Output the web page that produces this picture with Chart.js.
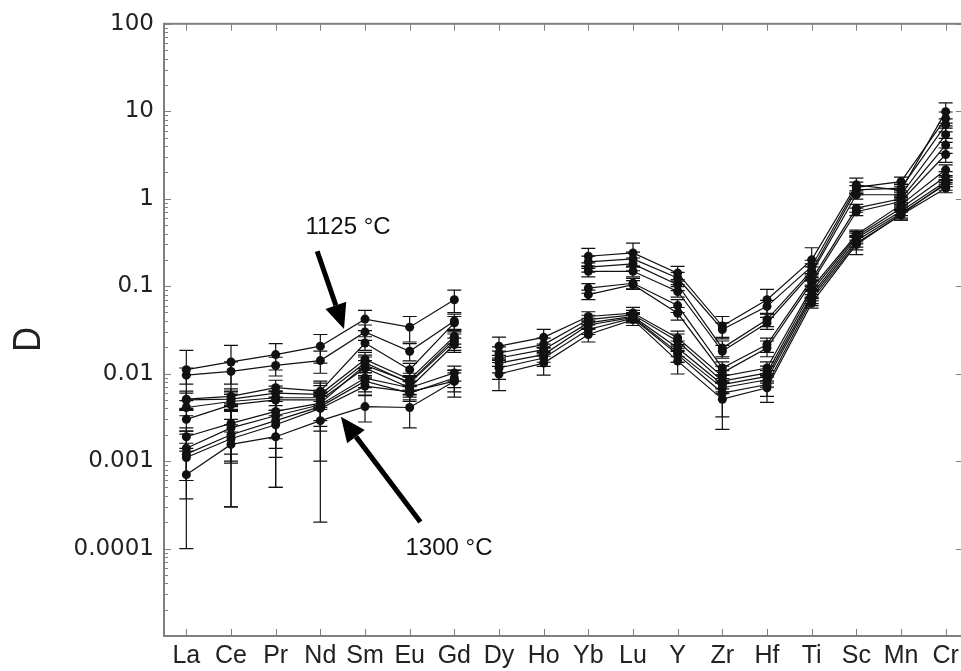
<!DOCTYPE html>
<html>
<head>
<meta charset="utf-8">
<script src="https://cdn.jsdelivr.net/npm/chart.js@4.4.0/dist/chart.umd.min.js"></script>
<style>
  html, body { margin: 0; padding: 0; background: #fff; overflow: hidden; }
  #wrap { width: 961px; height: 671px; overflow: hidden; }
</style>
</head>
<body>
<div id="wrap"><canvas id="chart" width="980" height="671"></canvas></div>
<script>
const categories = ["La", "Ce", "Pr", "Nd", "Sm", "Eu", "Gd", "Dy", "Ho", "Yb", "Lu", "Y", "Zr", "Hf", "Ti", "Sc", "Mn", "Cr"];
const yTickValues = [1e-5, 1e-4, 1e-3, 0.01, 0.1, 1, 10, 100];
const yTickLabels = ["", "0.0001", "0.001", "0.01", "0.1", "1", "10", "100"];

// partition coefficients, one array per run (top = 1125 °C ... bottom = 1300 °C)
const s1 = [0.0111, 0.0136, 0.0165, 0.0206, 0.042, 0.034, 0.070, null, null, 0.22, 0.24, 0.141, 0.035, 0.070, 0.20, 1.44, 1.25, 9.9];
const s2 = [0.0096, 0.0106, 0.0124, 0.0141, 0.030, 0.018, 0.040, null, null, 0.19, 0.205, 0.124, 0.032, 0.0588, 0.168, 1.35, 1.57, 8.3];
const s3 = [0.0051, 0.0055, 0.0069, 0.0063, 0.0224, 0.0111, 0.038, null, null, 0.165, 0.18, 0.104, 0.0196, 0.0415, 0.15, 1.26, 1.32, 7.0];
const s4 = [0.0050, 0.0051, 0.0060, 0.0058, 0.0145, 0.0086, 0.0267, null, null, 0.148, 0.148, 0.087, 0.018, 0.038, 0.141, 1.11, 1.11, 5.4];
const s5 = [0.0041, 0.0048, 0.0053, 0.0053, 0.0133, 0.0078, 0.0234, null, null, 0.095, 0.108, 0.060, 0.0116, 0.0215, 0.119, 0.78, 1.0, 4.1];
const s6 = [0.0030, 0.0044, 0.0050, 0.0050, 0.0116, 0.0069, 0.0215, null, null, 0.08, 0.104, 0.049, 0.0102, 0.0196, 0.11, 0.71, 0.93, 3.2];
const s7 = [0.0019, 0.0027, 0.0037, 0.0046, 0.0125, 0.0080, 0.025, 0.0206, 0.026, 0.045, 0.0493, 0.0256, 0.0093, 0.0116, 0.095, 0.387, 0.85, 2.14];
const s8 = [0.0014, 0.0024, 0.0033, 0.0044, 0.0089, 0.0069, 0.0102, 0.0172, 0.0215, 0.0415, 0.047, 0.0234, 0.0082, 0.0102, 0.088, 0.37, 0.78, 1.79];
const s9 = [0.0012, 0.0020, 0.0029, 0.0042, 0.0082, 0.0060, 0.0089, 0.0151, 0.0188, 0.038, 0.045, 0.0196, 0.0075, 0.0093, 0.080, 0.354, 0.72, 1.57];
const s10 = [0.0011, 0.0018, 0.0026, 0.0040, 0.0072, 0.0062, 0.0082, 0.0132, 0.0165, 0.036, 0.044, 0.0175, 0.0069, 0.0085, 0.075, 0.33, 0.68, 1.45];
const s11 = [0.0007, 0.00155, 0.0019, 0.0029, 0.0042, 0.0041, 0.0082, 0.0116, 0.0151, 0.032, 0.043, 0.0165, 0.0060, 0.0075, 0.070, 0.31, 0.65, 1.32];
const s12 = [null, null, null, null, null, null, null, 0.0099, 0.0132, 0.028, 0.0415, 0.0139, 0.0051, 0.0069, 0.064, 0.30, 0.66, 1.5];

// +/- errors (same units as D)
const e1 = [0.0073, 0.0074, 0.0055, 0.0074, 0.011, 0.011, 0.020, null, null, 0.05, 0.07, 0.027, 0.010, 0.022, 0.075, 0.28, 0.20, 2.6];
const e2 = [0.0020, 0.0030, 0.0030, 0.0040, 0.006, 0.004, 0.008, null, null, 0.03, 0.04, 0.020, 0.006, 0.010, 0.030, 0.20, 0.20, 1.5];
const e3 = [0.0012, 0.0012, 0.0015, 0.0015, 0.004, 0.002, 0.007, null, null, 0.02, 0.03, 0.015, 0.004, 0.007, 0.03, 0.15, 0.15, 1.2];
const e4 = [0.0010, 0.0012, 0.0012, 0.0015, 0.003, 0.0015, 0.005, null, null, 0.02, 0.02, 0.012, 0.003, 0.006, 0.025, 0.12, 0.12, 1.0];
const e5 = [0.0008, 0.0010, 0.0010, 0.0012, 0.003, 0.0015, 0.005, null, null, 0.012, 0.015, 0.010, 0.002, 0.004, 0.02, 0.08, 0.10, 0.8];
const e6 = [0.0008, 0.0014, 0.0012, 0.0011, 0.0025, 0.0012, 0.004, null, null, 0.01, 0.012, 0.008, 0.002, 0.004, 0.02, 0.07, 0.10, 0.6];
const e7 = [0.0005, 0.0015, 0.0026, 0.0036, 0.003, 0.0015, 0.005, 0.0055, 0.006, 0.006, 0.008, 0.005, 0.0015, 0.002, 0.02, 0.05, 0.10, 0.3];
const e8 = [0.0008, 0.0021, 0.0015, 0.0015, 0.002, 0.0015, 0.002, 0.003, 0.004, 0.005, 0.006, 0.005, 0.0015, 0.002, 0.015, 0.05, 0.08, 0.25];
const e9 = [0.00083, 0.0017, 0.0024, 0.002, 0.002, 0.0012, 0.002, 0.003, 0.003, 0.005, 0.005, 0.004, 0.0013, 0.0015, 0.012, 0.05, 0.08, 0.2];
const e10 = [0.0005, 0.0008, 0.0012, 0.0015, 0.0015, 0.0012, 0.002, 0.003, 0.003, 0.004, 0.005, 0.004, 0.001, 0.0015, 0.012, 0.05, 0.08, 0.2];
const e11 = [0.0006, 0.0006, 0.0014, 0.0027, 0.0014, 0.0017, 0.0028, 0.003, 0.003, 0.004, 0.005, 0.003, 0.0028, 0.002, 0.01, 0.05, 0.08, 0.15];
const e12 = [null, null, null, null, null, null, null, 0.0035, 0.0036, 0.005, 0.006, 0.004, 0.0028, 0.0022, 0.008, 0.07, 0.09, 0.12];

const seriesList = [s1, s2, s3, s4, s5, s6, s7, s8, s9, s10, s11, s12];
const errList = [e1, e2, e3, e4, e5, e6, e7, e8, e9, e10, e11, e12];

const GAP_AFTER = categories.indexOf("Gd"); // no line between Gd and Dy
const INK = "#111";
const FRAME = "#808080";

const datasets = seriesList.map((vals, i) => ({
  label: "run " + (i + 1),
  data: vals,
  errors: errList[i],
  borderColor: INK,
  borderWidth: 1.2,
  backgroundColor: INK,
  pointBackgroundColor: INK,
  pointBorderColor: INK,
  pointRadius: 4.5,
  pointBorderWidth: 0,
  tension: 0,
  spanGaps: false,
  segment: {
    borderColor: (ctx) => (ctx.p0DataIndex === GAP_AFTER ? "rgba(0,0,0,0)" : undefined),
  },
}));

function drawArrow(ctx, x0, y0, x1, y1) {
  const ang = Math.atan2(y1 - y0, x1 - x0);
  const headLen = 25;
  const headHalf = 11;
  const bx = x1 - headLen * Math.cos(ang);
  const by = y1 - headLen * Math.sin(ang);
  ctx.beginPath();
  ctx.moveTo(x0, y0);
  ctx.lineTo(bx, by);
  ctx.lineWidth = 5;
  ctx.strokeStyle = "#000";
  ctx.stroke();
  ctx.beginPath();
  ctx.moveTo(x1, y1);
  ctx.lineTo(bx + headHalf * Math.sin(ang), by - headHalf * Math.cos(ang));
  ctx.lineTo(bx - headHalf * Math.sin(ang), by + headHalf * Math.cos(ang));
  ctx.closePath();
  ctx.fillStyle = "#000";
  ctx.fill();
}

const errorBars = {
  id: "errorBars",
  beforeDatasetsDraw(chart) {
    const { ctx, scales: { x, y } } = chart;
    ctx.save();
    ctx.strokeStyle = INK;
    ctx.lineWidth = 1.2;
    chart.data.datasets.forEach((ds) => {
      ds.data.forEach((v, i) => {
        const e = ds.errors[i];
        if (v == null || e == null) return;
        const px = x.getPixelForValue(i);
        const lo = y.getPixelForValue(Math.max(v - e, 1e-5));
        const hi = y.getPixelForValue(v + e);
        ctx.beginPath();
        ctx.moveTo(px, lo); ctx.lineTo(px, hi);
        ctx.moveTo(px - 7, lo); ctx.lineTo(px + 7, lo);
        ctx.moveTo(px - 7, hi); ctx.lineTo(px + 7, hi);
        ctx.stroke();
      });
    });
    ctx.restore();
  },
};

const frameAndNotes = {
  id: "frameAndNotes",
  afterDraw(chart) {
    const { ctx, chartArea: a, scales: { x, y } } = chart;
    ctx.save();
    // frame
    ctx.strokeStyle = FRAME;
    ctx.lineWidth = 2;
    ctx.strokeRect(a.left, a.top, a.right - a.left, a.bottom - a.top);
    ctx.lineWidth = 1;
    ctx.beginPath();
    // left (major + minor) and right (major) ticks, pointing inward
    for (let p = -5; p <= 2; p++) {
      const yy = Math.round(y.getPixelForValue(Math.pow(10, p))) + 0.5;
      ctx.moveTo(a.left, yy); ctx.lineTo(a.left + 7, yy);
      ctx.moveTo(a.right, yy); ctx.lineTo(a.right - 12, yy);
      if (p < 2) {
        for (let k = 2; k <= 9; k++) {
          const ym = Math.round(y.getPixelForValue(k * Math.pow(10, p))) + 0.5;
          ctx.moveTo(a.left, ym); ctx.lineTo(a.left + 4, ym);
        }
      }
    }
    // top and bottom category ticks
    categories.forEach((c, i) => {
      const xx = Math.round(x.getPixelForValue(i)) + 0.5;
      ctx.moveTo(xx, a.top); ctx.lineTo(xx, a.top + 7);
      ctx.moveTo(xx, a.bottom); ctx.lineTo(xx, a.bottom - 7);
    });
    ctx.stroke();

    // y-axis title
    ctx.fillStyle = "#222";
    ctx.save();
    ctx.translate(29, y.getPixelForValue(0.0245));
    ctx.rotate(-Math.PI / 2);
    ctx.scale(1, 1.13);
    ctx.font = "34px 'Liberation Sans', Arial, sans-serif";
    ctx.textAlign = "center";
    ctx.textBaseline = "middle";
    ctx.fillText("D", 0, 0);
    ctx.restore();

    // temperature annotations
    drawArrow(ctx, x.getPixelForValue(2.93), y.getPixelForValue(0.251),
      x.getPixelForValue(3.53), y.getPixelForValue(0.0324));
    drawArrow(ctx, x.getPixelForValue(5.24), y.getPixelForValue(0.000201),
      x.getPixelForValue(3.46), y.getPixelForValue(0.00322));
    ctx.fillStyle = "#111";
    ctx.font = "24px 'Liberation Sans', Arial, sans-serif";
    ctx.textAlign = "center";
    ctx.textBaseline = "middle";
    ctx.fillText("1125 °C", x.getPixelForValue(3.62), y.getPixelForValue(0.472));
    ctx.fillText("1300 °C", x.getPixelForValue(5.88), y.getPixelForValue(0.0001));
    ctx.restore();
  },
};

new Chart(document.getElementById("chart"), {
  type: "line",
  data: { labels: categories, datasets },
  options: {
    responsive: false,
    animation: false,
    devicePixelRatio: 1,
    layout: { padding: { left: 0, top: 22, right: 12, bottom: 0 } },
    plugins: {
      legend: { display: false },
      tooltip: { enabled: false },
    },
    scales: {
      x: {
        type: "category",
        offset: true,
        grid: { display: false, drawTicks: false },
        border: { display: false },
        ticks: {
          autoSkip: false,
          maxRotation: 0,
          padding: 5,
          color: "#222",
          font: { family: "'Liberation Sans', Arial, sans-serif", size: 25 },
        },
        afterFit: (s) => { s.height = 35; },
      },
      y: {
        type: "logarithmic",
        min: 1e-5,
        max: 100,
        grid: { display: false, drawTicks: false },
        border: { display: false },
        afterBuildTicks: (s) => { s.ticks = yTickValues.map((v) => ({ value: v })); },
        ticks: {
          autoSkip: false,
          padding: 10,
          color: "#222",
          font: { family: "'DejaVu Sans', sans-serif", size: 23 },
          callback: (v) => {
            const i = yTickValues.findIndex((t) => Math.abs(Math.log10(t) - Math.log10(v)) < 1e-6);
            return i >= 0 ? yTickLabels[i] : "";
          },
        },
        afterFit: (s) => { s.width = 164; },
      },
    },
  },
  plugins: [errorBars, frameAndNotes],
});
</script>
</body>
</html>
